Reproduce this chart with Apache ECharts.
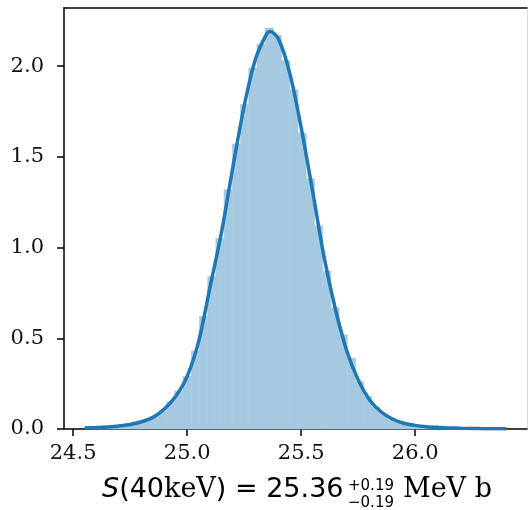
<!DOCTYPE html>
<html>
<head>
<meta charset="utf-8">
<script src="https://cdn.jsdelivr.net/npm/echarts@6/dist/echarts.min.js"></script>
<style>
  html, body { margin: 0; padding: 0; background: #fff; }
  #chart { width: 528px; height: 510px; }
</style>
</head>
<body>
<div id="chart"></div>
<script>
// histogram: 50 bins, density normalised
const binStart = 24.586;
const binWidth = 0.036;
const binHeights = [
  0.008, 0.010, 0.013, 0.018, 0.025, 0.034, 0.047, 0.068, 0.10, 0.15,
  0.21, 0.29, 0.43, 0.62, 0.84, 1.05, 1.32, 1.57, 1.79, 1.99,
  2.12, 2.21, 2.17, 2.03, 1.87, 1.63, 1.38, 1.12, 0.87, 0.67,
  0.52, 0.39, 0.26, 0.18, 0.12, 0.08, 0.055, 0.036, 0.025, 0.018,
  0.013, 0.010, 0.007, 0.005, 0.004, 0.003, 0.002, 0.002, 0.001, 0.001
];

// kde curve
const kdeX = [
  24.55, 24.60, 24.65, 24.70, 24.75, 24.80, 24.85, 24.90, 24.95, 25.00,
  25.05, 25.10, 25.15, 25.20, 25.25, 25.30, 25.35, 25.365, 25.40, 25.45,
  25.50, 25.55, 25.60, 25.65, 25.70, 25.75, 25.80, 25.85, 25.90, 25.95,
  26.00, 26.05, 26.10, 26.15, 26.20, 26.25, 26.30, 26.35, 26.40
];
const kdeY = [
  0.006, 0.008, 0.011, 0.016, 0.025, 0.040, 0.064, 0.11, 0.18, 0.29,
  0.48, 0.78, 1.08, 1.44, 1.78, 2.04, 2.18, 2.19, 2.15, 1.96,
  1.66, 1.31, 0.95, 0.66, 0.43, 0.27, 0.16, 0.095, 0.055, 0.032,
  0.020, 0.013, 0.009, 0.006, 0.004, 0.003, 0.002, 0.0015, 0.001
];

const xTicks = [24.5, 25.0, 25.5, 26.0];
const yTicks = [0, 0.5, 1.0, 1.5, 2.0];

const histData = binHeights.map((h, i) => [binStart + i * binWidth, binStart + (i + 1) * binWidth, h]);
const kdeData = kdeX.map((x, i) => [x, kdeY[i]]);

const chart = echarts.init(document.getElementById('chart'), null, { renderer: 'canvas' });

const tickStyle = { color: '#000', width: 1.5 };
const labelFont = { fontFamily: 'DejaVu Serif', fontSize: 21, color: '#111' };
const barColor = 'rgb(165,201,225)';

const option = {
  backgroundColor: '#fff',
  animation: false,
  grid: { left: 64, right: 1, top: 8, bottom: 81 },
  xAxis: [
    {
      type: 'value',
      min: 24.46,
      max: 26.49,
      axisLine: { onZero: false, lineStyle: { color: '#000', width: 1.5 } },
      axisTick: { customValues: xTicks, length: 7, lineStyle: tickStyle },
      axisLabel: Object.assign({ customValues: xTicks, margin: 14, formatter: v => v.toFixed(1) }, labelFont),
      splitLine: { show: false }
    },
    {
      type: 'value',
      position: 'top',
      min: 24.46,
      max: 26.49,
      axisLine: { show: true, onZero: false, lineStyle: { color: '#000', width: 1.5 } },
      axisTick: { show: false },
      axisLabel: { show: false },
      splitLine: { show: false }
    }
  ],
  yAxis: [
    {
      type: 'value',
      min: 0,
      max: 2.32,
      axisLine: { show: true, onZero: false, lineStyle: { color: '#000', width: 1.5 } },
      axisTick: { show: true, customValues: yTicks, length: 7, lineStyle: tickStyle },
      axisLabel: Object.assign({ customValues: yTicks, margin: 20, formatter: v => v.toFixed(1) }, labelFont),
      splitLine: { show: false }
    },
    {
      type: 'value',
      position: 'right',
      min: 0,
      max: 2.32,
      axisLine: { show: true, onZero: false, lineStyle: { color: '#d8d8d8', width: 1 } },
      axisTick: { show: false },
      axisLabel: { show: false },
      splitLine: { show: false }
    }
  ],
  graphic: [
    {
      type: 'text',
      left: 102,
      top: 476,
      style: {
        text: '{s|S}{a|(40}{b|keV}{a|) = 25.36}',
        rich: {
          s: { fontFamily: 'DejaVu Sans', fontStyle: 'italic', fontSize: 27, fill: '#000' },
          a: { fontFamily: 'DejaVu Sans', fontSize: 27, fill: '#000' },
          b: { fontFamily: 'DejaVu Serif', fontSize: 27, fill: '#000' }
        }
      }
    },
    {
      type: 'text',
      left: 348,
      top: 479,
      style: { text: '+0.19', font: '15px DejaVu Sans', fill: '#000' }
    },
    {
      type: 'text',
      left: 348,
      top: 496,
      style: { text: '\u22120.19', font: '15px DejaVu Sans', fill: '#000' }
    },
    {
      type: 'text',
      left: 403,
      top: 476,
      style: { text: 'MeV b', font: '27px DejaVu Serif', fill: '#000' }
    }
  ],
  series: [
    {
      type: 'custom',
      xAxisIndex: 0,
      yAxisIndex: 0,
      data: histData,
      renderItem: (params, api) => {
        const p0 = api.coord([api.value(0), api.value(2)]);
        const p1 = api.coord([api.value(1), 0]);
        return {
          type: 'rect',
          shape: { x: p0[0], y: p0[1], width: p1[0] - p0[0], height: p1[1] - p0[1] },
          style: { fill: barColor, stroke: barColor, lineWidth: 0.6 }
        };
      },
      z: 1
    },
    {
      type: 'line',
      xAxisIndex: 0,
      yAxisIndex: 0,
      data: kdeData,
      smooth: 0.3,
      showSymbol: false,
      lineStyle: { color: '#1f77b4', width: 3.5 },
      z: 2
    }
  ]
};

chart.setOption(option);
</script>
</body>
</html>
